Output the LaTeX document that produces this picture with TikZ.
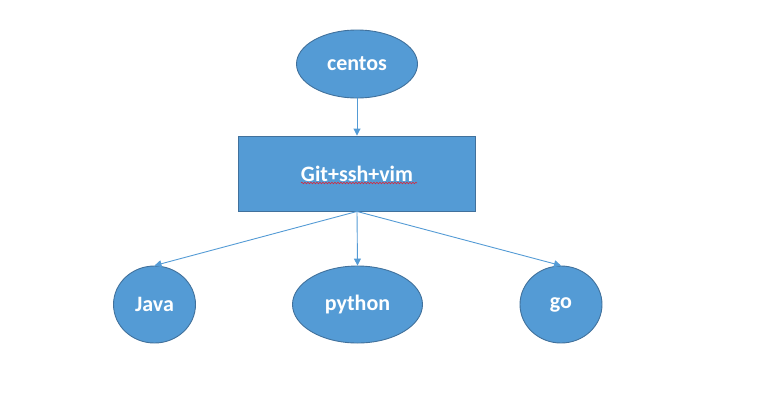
\documentclass[tikz,border=0pt]{standalone}
\usepackage{fontspec}
\setmainfont{Carlito}
\usetikzlibrary{shapes.geometric,arrows.meta,decorations.pathmorphing}
\definecolor{officeblue}{RGB}{84,155,213}
\definecolor{officeedge}{RGB}{65,113,156}
\definecolor{spellred}{RGB}{214,40,60}
\newcommand{\var}{
\def\wsm{82pt}   % small ellipse width
\def\wbig{130pt}
\def\hlow{77pt}
}
\tikzset{
  blob/.style={ellipse,draw=officeedge,fill=officeblue,line width=0.9pt,
    inner sep=0pt,text=white,font=\fontsize{22}{26}\selectfont\bfseries},
  box/.style={rectangle,draw=officeedge,fill=officeblue,line width=0.9pt,
    inner sep=0pt,text=white,font=\fontsize{22}{26}\selectfont\bfseries},
  link/.style={draw=officeblue,line width=0.9pt,-{Triangle[length=7pt,width=7pt]}}
}
\begin{document}
\begin{tikzpicture}[x=1pt,y=-1pt]
  \var
  \useasboundingbox (0,0) rectangle (773,416);
  \node[blob,minimum width=121pt,minimum height=68pt] (centos) at (357,64) {centos};
  \node[box,minimum width=237pt,minimum height=75pt] (tools) at (357,173.5) {Git+ssh+vim};
  \node[blob,minimum width=\wsm,minimum height=\hlow] (java) at (154.5,304.5) {Java};
  \node[blob,minimum width=\wbig,minimum height=\hlow] (python) at (357.5,304.5) {python};
  \node[blob,minimum width=\wsm,minimum height=\hlow] (go) at (561,304.5) {go};
  % spell check squiggle under the box text
  \coordinate (sqa) at (301,183);
  \coordinate (sqb) at (417,183);
  \draw[spellred,line width=0.6pt,decorate,
    decoration={snake,amplitude=0.8pt,segment length=3pt}] (sqa) -- (sqb);
  \draw[link] (centos.south) -- (tools.north);
  \draw[link] (tools.south) -- (java.north);
  \draw[link] (tools.south) -- (python.north);
  \draw[link] (tools.south) -- (go.north);
\end{tikzpicture}
\end{document}
